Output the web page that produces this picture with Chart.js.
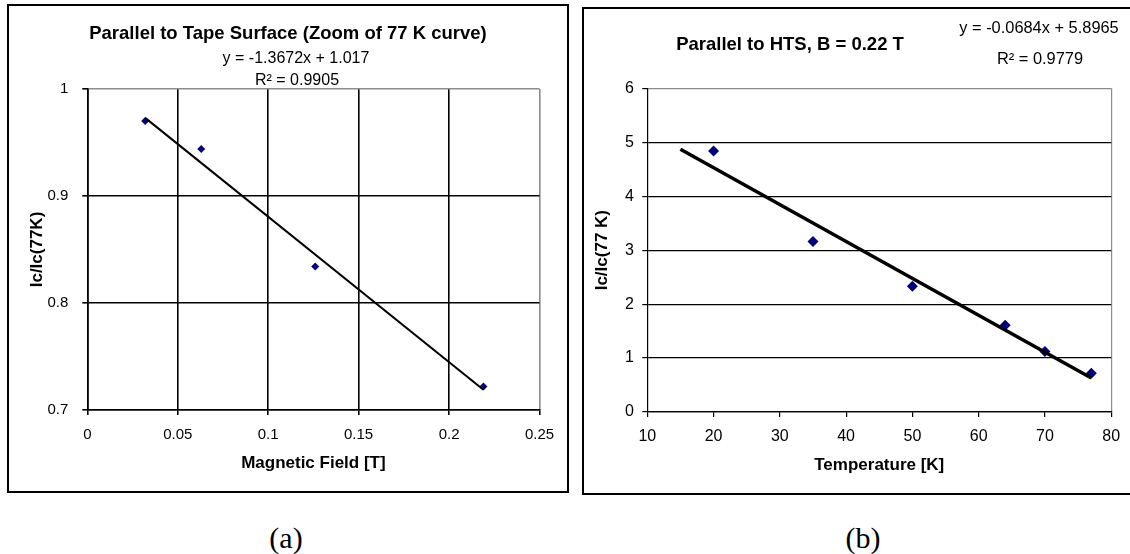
<!DOCTYPE html>
<html>
<head>
<meta charset="utf-8">
<script src="https://cdn.jsdelivr.net/npm/chart.js@4.4.1/dist/chart.umd.min.js"></script>
<style>
  html, body { margin: 0; padding: 0; background: #fff; }
  body { width: 1130px; height: 554px; position: relative; overflow: hidden; font-family: "Liberation Sans", Arial, sans-serif; }
  .box { position: absolute; box-sizing: border-box; border: 2px solid #000; }
  #boxA { left: 7px; top: 4px; width: 562px; height: 489px; }
  #boxB { left: 582px; top: 7px; width: 560px; height: 488px; }
  canvas { position: absolute; }
  #cA { left: 9px; top: 6px; }
  #cB { left: 584px; top: 9px; }
  .cap { position: absolute; font-family: "Liberation Serif", "Times New Roman", serif; font-size: 30px; line-height: 1; color: #000; transform: translate(-50%, -50%); }
</style>
</head>
<body>
<div class="box" id="boxA"></div>
<div class="box" id="boxB"></div>
<canvas id="cA" width="557" height="485"></canvas>
<canvas id="cB" width="546" height="484"></canvas>
<div class="cap" style="left:286px; top:538px;">(a)</div>
<div class="cap" style="left:863px; top:538px;">(b)</div>
<script>
// ---------- Data: chart (a) ----------
const titleA = "Parallel to Tape Surface (Zoom of 77 K curve)";
const eqA = ["y = -1.3672x + 1.017", "R\u00B2 = 0.9905"];
const fieldA = [0.032, 0.063, 0.126, 0.219];
const ratioA = [0.970, 0.944, 0.834, 0.722];
const trendXA = [0.032, 0.219];
const trendYA = [0.973, 0.719];
const xTicksA = [0, 0.05, 0.1, 0.15, 0.2, 0.25];
const yTicksA = [0.7, 0.8, 0.9, 1];
const xTitleA = "Magnetic Field [T]";
const yTitleA = "Ic/Ic(77K)";

// ---------- Data: chart (b) ----------
const titleB = "Parallel to HTS, B = 0.22 T";
const eqB = ["y = -0.0684x + 5.8965", "R\u00B2 = 0.9779"];
const tempB = [20, 35, 50, 64, 70, 77];
const ratioB = [4.84, 3.16, 2.33, 1.61, 1.12, 0.72];
const trendXB = [15, 77];
const trendYB = [4.87, 0.63];
const xTicksB = [10, 20, 30, 40, 50, 60, 70, 80];
const yTicksB = [0, 1, 2, 3, 4, 5, 6];
const xTitleB = "Temperature [K]";
const yTitleB = "Ic/Ic(77 K)";

const FONT = "'Liberation Sans', Arial, sans-serif";
const NAVY = "#000080";

function pts(xs, ys) { return xs.map((x, i) => ({ x: x, y: ys[i] })); }

function textPlugin(items) {
  return {
    id: 'texts',
    afterDraw(chart) {
      const ctx = chart.ctx;
      ctx.save();
      ctx.fillStyle = '#000';
      ctx.textAlign = 'center';
      ctx.textBaseline = 'middle';
      items.forEach(it => {
        ctx.font = (it.bold ? 'bold ' : '') + it.size + 'px ' + FONT;
        ctx.fillText(it.text, it.x, it.y);
      });
      ctx.restore();
    }
  };
}

function makeChart(id, cfg) {
  const last = a => a[a.length - 1];
  return new Chart(document.getElementById(id), {
    type: 'scatter',
    data: {
      datasets: [
        { data: pts(cfg.tx, cfg.ty), showLine: true, borderColor: '#000', borderWidth: cfg.lw,
          pointRadius: 0, pointHoverRadius: 0, order: 0 },
        { data: pts(cfg.x, cfg.y), pointStyle: 'rectRot', pointRadius: cfg.pr, pointHoverRadius: cfg.pr,
          backgroundColor: NAVY, borderColor: NAVY, borderWidth: 0, showLine: false, order: 1 }
      ]
    },
    options: {
      responsive: false,
      animation: false,
      devicePixelRatio: 1,
      events: [],
      layout: { padding: { top: cfg.padTop, right: cfg.padRight, left: 0, bottom: 0 } },
      plugins: { legend: { display: false }, tooltip: { enabled: false }, title: { display: false } },
      scales: {
        x: {
          type: 'linear',
          min: cfg.xt[0], max: last(cfg.xt),
          afterBuildTicks: s => { s.ticks = cfg.xt.map(v => ({ value: v })); },
          afterFit: s => { s.height = cfg.xh; },
          ticks: { color: '#000', font: { family: FONT, size: cfg.tickSize }, padding: cfg.xtPad,
                   maxRotation: 0, autoSkip: false, callback: v => String(v) },
          grid: {
            color: c => cfg.vgrid ? (c.tick && c.tick.value === last(cfg.xt) ? '#8c8c8c' : '#000')
                                  : (c.tick && c.tick.value === last(cfg.xt) ? '#8c8c8c' : 'rgba(0,0,0,0)'),
            lineWidth: cfg.gw, tickLength: 5, tickColor: '#000', tickWidth: cfg.gw, drawTicks: true
          },
          border: { display: true, color: '#000', width: cfg.gw },
          title: { display: true, text: cfg.xTitle, color: '#000',
                   font: { family: FONT, size: cfg.axTitleSize, weight: 'bold' },
                   padding: { top: 0, bottom: cfg.xTitlePad } }
        },
        y: {
          type: 'linear',
          min: cfg.yt[0], max: last(cfg.yt),
          afterBuildTicks: s => { s.ticks = cfg.yt.map(v => ({ value: v })); },
          afterFit: s => { s.width = cfg.yw; },
          ticks: { color: '#000', font: { family: FONT, size: cfg.tickSize }, padding: cfg.ytPad,
                   callback: v => String(v) },
          grid: {
            color: c => (c.tick && c.tick.value === last(cfg.yt) ? '#8c8c8c' : '#000'),
            lineWidth: cfg.gw, tickLength: 5, tickColor: '#000', tickWidth: cfg.gw, drawTicks: true
          },
          border: { display: true, color: '#000', width: cfg.gw },
          title: { display: true, text: cfg.yTitle, color: '#000',
                   font: { family: FONT, size: cfg.axTitleSize, weight: 'bold' },
                   padding: { top: cfg.yTitlePad, bottom: 0 } }
        }
      }
    },
    plugins: [textPlugin(cfg.texts)]
  });
}

makeChart('cA', {
  x: fieldA, y: ratioA, tx: trendXA, ty: trendYA, xt: xTicksA, yt: yTicksA,
  xTitle: xTitleA, yTitle: yTitleA, lw: 2, pr: 4, vgrid: true, gw: 1.6,
  padTop: 83, padRight: 26.5, xh: 81, yw: 78.3, tickSize: 15, axTitleSize: 17,
  xtPad: 10.7, ytPad: 14, xTitlePad: 17.8, yTitlePad: 17.8,
  texts: [
    { text: titleA, x: 279, y: 28, size: 18.5, bold: true },
    { text: eqA[0], x: 287, y: 52.5, size: 16 },
    { text: eqA[1], x: 288, y: 75, size: 16 }
  ]
});

makeChart('cB', {
  x: tempB, y: ratioB, tx: trendXB, ty: trendYB, xt: xTicksB, yt: yTicksB,
  xTitle: xTitleB, yTitle: yTitleB, lw: 3.5, pr: 5.5, vgrid: false, gw: 1.2,
  padTop: 79.3, padRight: 13.6, xh: 81, yw: 63.3, tickSize: 16, axTitleSize: 17,
  xtPad: 9.9, ytPad: 8.3, xTitlePad: 17.8, yTitlePad: 7.8,
  texts: [
    { text: titleB, x: 206, y: 35.5, size: 18.5, bold: true },
    { text: eqB[0], x: 455, y: 19, size: 16.4 },
    { text: eqB[1], x: 456, y: 50, size: 16.4 }
  ]
});
</script>
</body>
</html>
